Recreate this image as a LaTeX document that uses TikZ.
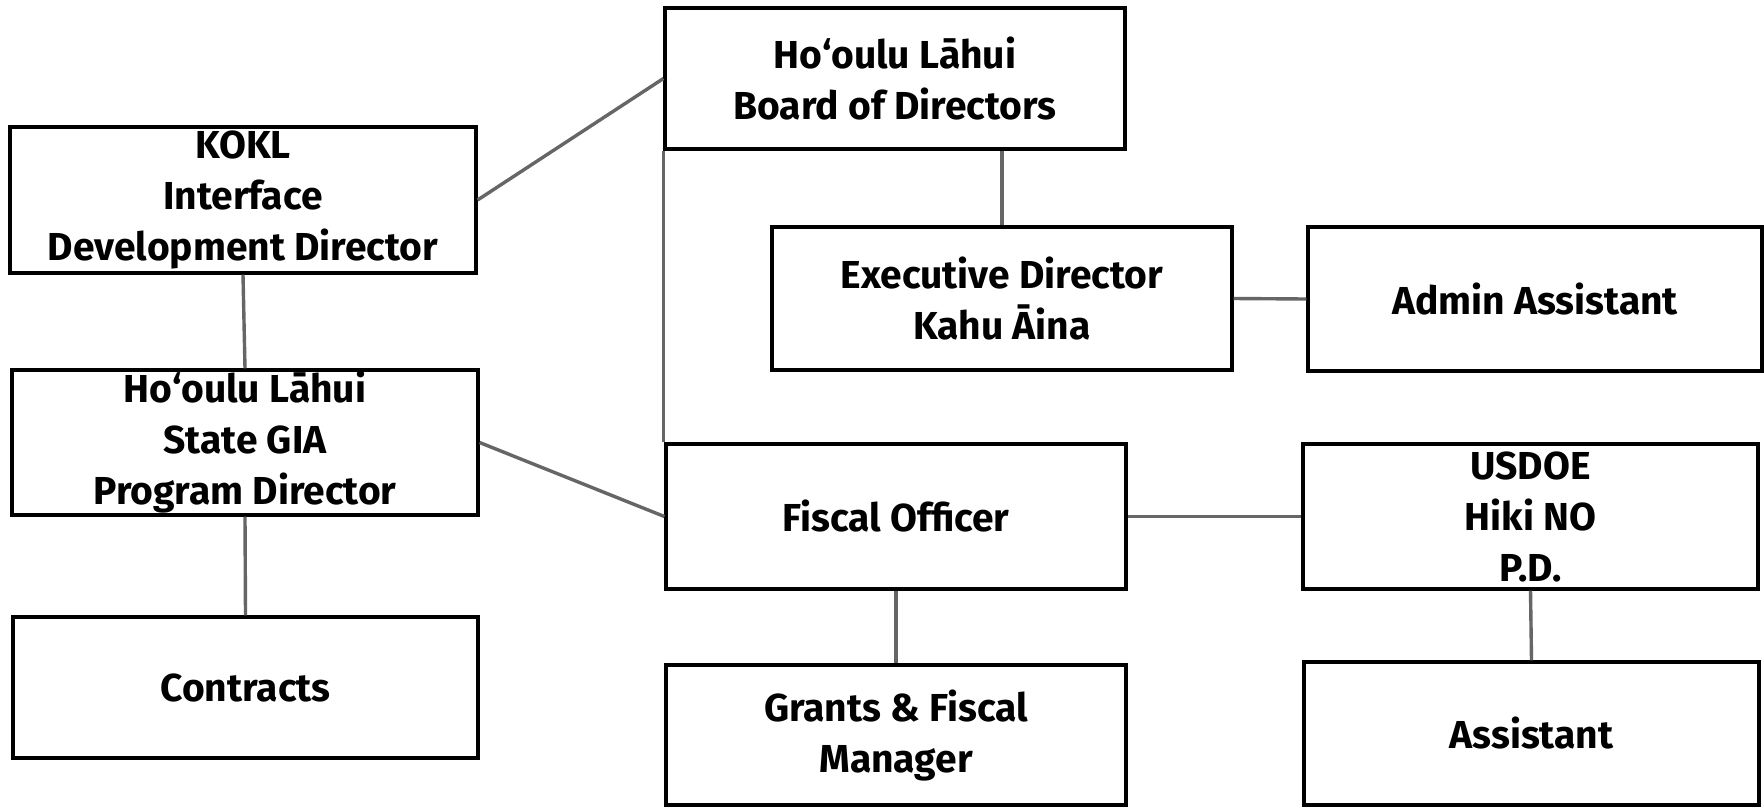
\documentclass[tikz,border=0pt]{standalone}
\usepackage{fontspec}
\setmainfont{Fira Sans}
\begin{document}
\begin{tikzpicture}[x=1pt,y=-1pt,
  box/.style={draw=black, line width=3.2pt, fill=white, align=center, inner sep=0pt,
    font=\fontsize{39}{51}\selectfont\bfseries},
  link/.style={draw=black!60, line width=3.4pt}]
\fill[white] (0,0) rectangle (1764,807);
\useasboundingbox (0,0) rectangle (1764,807);

\node[box, minimum width=460pt, minimum height=141pt] (board) at (895,78.5) {Ho‘oulu Lāhui\\Board of Directors};
\node[box, minimum width=466pt, minimum height=146pt] (kokl) at (243,200) {KOKL\\Interface\\Development Director};
\node[box, minimum width=460pt, minimum height=143pt] (exec) at (1002,298.5) {Executive Director\\Kahu Āina};
\node[box, minimum width=454pt, minimum height=144pt] (admin) at (1535,299) {Admin Assistant};
\node[box, minimum width=466pt, minimum height=145pt] (gia) at (245,442.5) {Ho‘oulu Lāhui\\State GIA\\Program Director};
\node[box, minimum width=460pt, minimum height=145pt] (fiscal) at (896,516.5) {Fiscal Officer};
\node[box, minimum width=455pt, minimum height=145pt] (usdoe) at (1530.5,516.5) {USDOE\\Hiki NO\\P.D.};
\node[box, minimum width=465pt, minimum height=141pt] (contracts) at (245.5,687.5) {Contracts};
\node[box, minimum width=460pt, minimum height=140pt] (grants) at (896,735) {Grants \& Fiscal\\Manager};
\node[box, minimum width=455pt, minimum height=143pt] (assistant) at (1531.5,733.5) {Assistant};

\draw[link] (kokl.east) -- (board.west);
\draw[link] (board.south west) -- (board.south west |- fiscal.north);
\draw[link] (exec.north) -- (exec.north |- board.south);
\draw[link] (exec.east) -- (admin.west);
\draw[link] (kokl.south) -- (gia.north);
\draw[link] (gia.east) -- (fiscal.west);
\draw[link] (gia.south) -- (contracts.north);
\draw[link] (fiscal.east) -- (usdoe.west);
\draw[link] (fiscal.south) -- (grants.north);
\draw[link] (usdoe.south) -- (assistant.north);
\end{tikzpicture}
\end{document}
